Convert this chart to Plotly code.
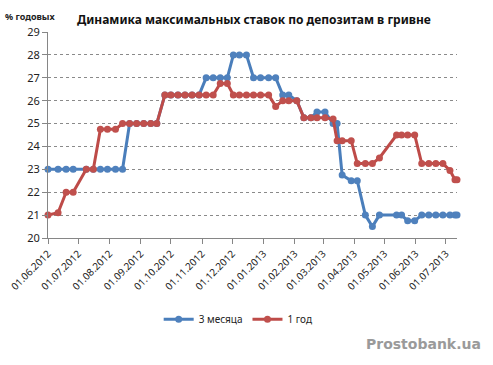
import plotly.graph_objects as go

dates = [
    "2012-06-01", "2012-06-11", "2012-06-19", "2012-06-26", "2012-07-09", "2012-07-16",
    "2012-07-23", "2012-07-30", "2012-08-07", "2012-08-14", "2012-08-21", "2012-08-28",
    "2012-09-04", "2012-09-11", "2012-09-17", "2012-09-25", "2012-10-01", "2012-10-08",
    "2012-10-15", "2012-10-22", "2012-10-29", "2012-11-05", "2012-11-12", "2012-11-19",
    "2012-11-26", "2012-12-02", "2012-12-08", "2012-12-15", "2012-12-22", "2012-12-29",
    "2013-01-06", "2013-01-13", "2013-01-20", "2013-01-26", "2013-02-03", "2013-02-10",
    "2013-02-17", "2013-02-23", "2013-03-03", "2013-03-11", "2013-03-15", "2013-03-20",
    "2013-03-29", "2013-04-04", "2013-04-12", "2013-04-19", "2013-04-26", "2013-05-13",
    "2013-05-18", "2013-05-24", "2013-05-31", "2013-06-07", "2013-06-14", "2013-06-21",
    "2013-06-28", "2013-07-05", "2013-07-10", "2013-07-12",
]

rates_3m = [
    23, 23, 23, 23, 23, 23,
    23, 23, 23, 23, 25, 25,
    25, 25, 25, 26.25, 26.25, 26.25,
    26.25, 26.25, 26.25, 27, 27, 27,
    27, 28, 28, 28, 27, 27,
    27, 27, 26.25, 26.25, 26.0, 25.25,
    25.25, 25.5, 25.5, 25.0, 25.0, 22.75,
    22.5, 22.5, 21.0, 20.5, 21.0, 21.0,
    21.0, 20.75, 20.75, 21.0, 21.0, 21.0,
    21.0, 21.0, 21.0, 21.0,
]

rates_1y = [
    21.0, 21.1, 22, 22, 23, 23,
    24.75, 24.75, 24.75, 25, 25, 25,
    25, 25, 25, 26.25, 26.25, 26.25,
    26.25, 26.25, 26.25, 26.25, 26.25, 26.75,
    26.75, 26.25, 26.25, 26.25, 26.25, 26.25,
    26.25, 25.75, 26.0, 26.0, 26.0, 25.25,
    25.25, 25.25, 25.25, 25.2, 24.25, 24.25,
    24.25, 23.25, 23.25, 23.25, 23.5, 24.5,
    24.5, 24.5, 24.5, 23.25, 23.25, 23.25,
    23.25, 22.95, 22.55, 22.55,
]

tick_dates = [
    "2012-06-01", "2012-07-01", "2012-08-01", "2012-09-01", "2012-10-01", "2012-11-01",
    "2012-12-01", "2013-01-01", "2013-02-01", "2013-03-01", "2013-04-01", "2013-05-01",
    "2013-06-01", "2013-07-01",
]
tick_labels = [
    "01.06.2012", "01.07.2012", "01.08.2012", "01.09.2012", "01.10.2012", "01.11.2012",
    "01.12.2012", "01.01.2013", "01.02.2013", "01.03.2013", "01.04.2013", "01.05.2013",
    "01.06.2013", "01.07.2013",
]
y_ticks = [20, 21, 22, 23, 24, 25, 26, 27, 28, 29]

series_names = ["3 месяца", "1 год"]
BLUE = "#4A7EBB"
RED = "#BE4B48"
FONT = "Noto Sans"

fig = go.Figure()
fig.add_trace(go.Scatter(
    x=dates, y=rates_3m, name=series_names[0], mode="lines+markers",
    line=dict(color=BLUE, width=3), marker=dict(color="#4F81BD", size=7),
    cliponaxis=False,
))
fig.add_trace(go.Scatter(
    x=dates, y=rates_1y, name=series_names[1], mode="lines+markers",
    line=dict(color=RED, width=3), marker=dict(color="#C0504D", size=7),
    cliponaxis=False,
))

fig.update_layout(
    width=493, height=365,
    margin=dict(l=48, r=36, t=32, b=127, autoexpand=False),
    paper_bgcolor="white", plot_bgcolor="white",
    font=dict(family=FONT, size=10, color="#222222"),
    title=dict(
        text="<b>Динамика максимальных ставок по депозитам в гривне</b>",
        x=0.515, xref="container", xanchor="center",
        y=1 - 20 / 365, yref="container", yanchor="middle",
        font=dict(family=FONT, size=12, color="#111111"),
    ),
    showlegend=True,
    legend=dict(
        orientation="h", x=0.465, xanchor="center", y=-0.395, yanchor="middle",
        font=dict(family=FONT, size=10, color="#222222"),
        itemwidth=30, bgcolor="rgba(0,0,0,0)",
    ),
    xaxis=dict(
        type="date", range=["2012-06-01", "2013-07-12"],
        tickvals=tick_dates, ticktext=tick_labels, tickangle=-45,
        showgrid=False, showline=True, linecolor="#868686", linewidth=1,
        ticks="outside", ticklen=5, tickcolor="#868686",
        tickfont=dict(family=FONT, size=10, color="#222222"),
        zeroline=False, automargin=False,
    ),
    yaxis=dict(
        range=[20, 29], tickvals=y_ticks,
        showgrid=True, gridcolor="#8a8a8a", griddash="dot", gridwidth=1,
        showline=True, linecolor="#868686", linewidth=1,
        ticks="outside", ticklen=5, tickcolor="#868686",
        tickfont=dict(family=FONT, size=11, color="#222222"),
        zeroline=False, automargin=False,
    ),
    annotations=[
        dict(text="<b>% годовых</b>", xref="paper", yref="paper",
             x=-0.044, y=1.077, xanchor="center", yanchor="middle",
             showarrow=False, font=dict(family=FONT, size=9, color="#222222")),
        dict(text="<b>Prostobank.ua</b>", xref="paper", yref="paper",
             x=1.064, y=-0.516, xanchor="right", yanchor="middle",
             showarrow=False, font=dict(family="DejaVu Sans", size=14, color="#9a9a9a")),
    ],
)

fig.write_html(
    "out.html",
    config={"displayModeBar": False},
    post_script="document.body.style.margin='0';",
)
